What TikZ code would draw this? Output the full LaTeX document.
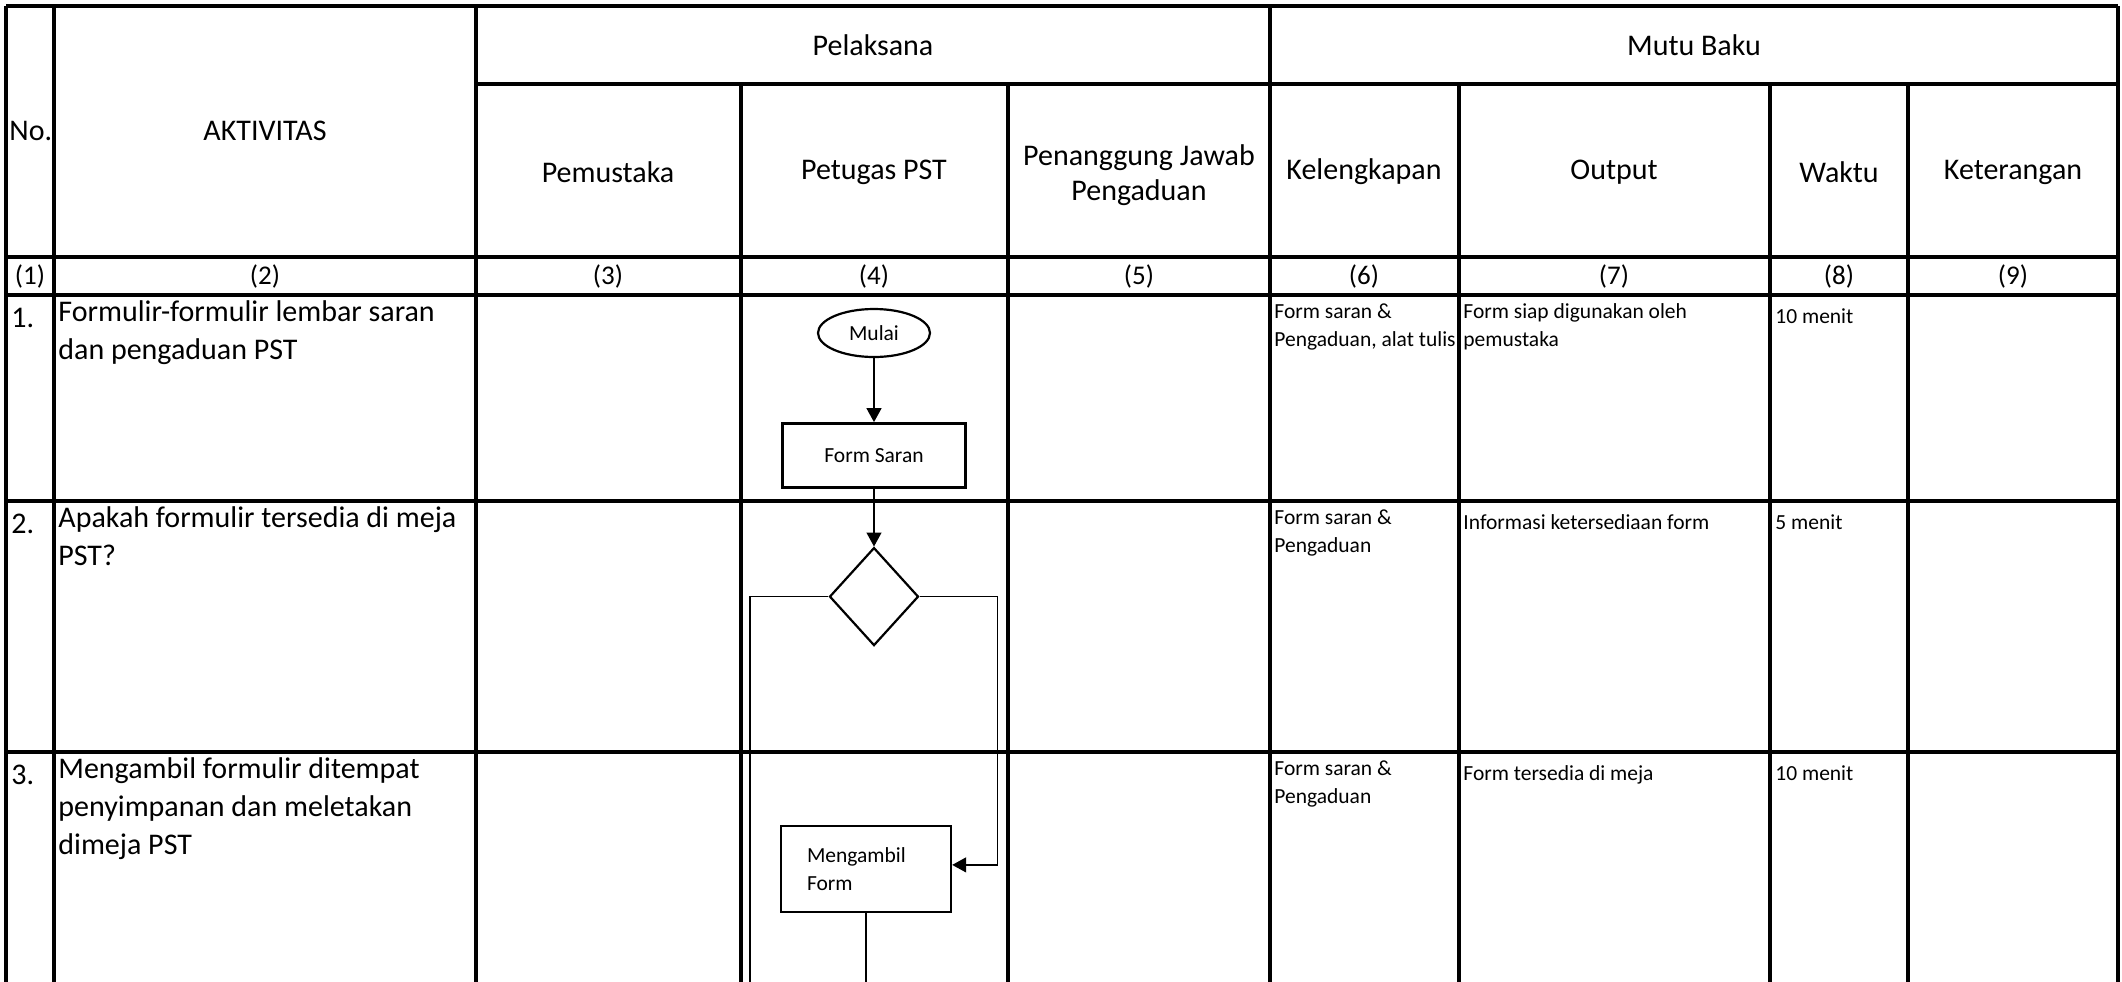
\documentclass[tikz,border=0pt]{standalone}
\usepackage{fontspec}
\setmainfont{Carlito}
\usetikzlibrary{shapes.geometric, arrows.meta, positioning}

\begin{document}
\begin{tikzpicture}[
  x=0.5pt, y=-0.5pt,
  gline/.style={line width=1.6pt},
  rowline/.style={line width=2pt},
  big/.style={font=\fontsize{15}{19}\selectfont},
  small/.style={font=\fontsize{10.75}{14}\selectfont},
  hdr/.style={big, align=center, inner sep=0pt},
  num/.style={font=\fontsize{13.5}{16}\selectfont, inner sep=0pt},
  cell/.style={anchor=north west, inner sep=0pt, align=left,
               execute at begin node=\strut},
  terminal/.style={draw, ellipse, line width=1.1pt, minimum width=56pt,
                   minimum height=24pt, inner sep=1pt, small},
  proc/.style={draw, rectangle, line width=1.2pt, minimum height=32pt, small},
  dec/.style={draw, diamond, line width=1.1pt, minimum width=44.5pt,
              minimum height=49pt, inner sep=0pt},
  arr/.style={-{Triangle[length=7pt, width=7.5pt]}, line width=0.65pt},
  conn/.style={line width=0.65pt}
]
\useasboundingbox (0,0) rectangle (2122,981);

% Table lines
\draw[rowline] (6,6) -- (2118,6);
\draw[rowline] (476,84) -- (2118,84);
\foreach \y in {257,295,501,752}
  \draw[rowline] (6,\y) -- (2118,\y);
\foreach \x in {6,54,476,1270,2118}
  \draw[gline] (\x,6) -- (\x,990);
\foreach \x in {741,1008,1459,1770,1908}
  \draw[gline] (\x,84) -- (\x,990);

% Header
\node[hdr, anchor=west] (hno) at (9,131) {No.};
\node[hdr] (hakt) at (265,131) {AKTIVITAS};
\node[hdr] (hpel) at (873,45) {Pelaksana};
\node[hdr] (hmutu) at (1694,45) {Mutu Baku};
\node[hdr] (hpem) at (608,172) {Pemustaka};
\node[hdr] (hpet) at (874,172) {Petugas PST};
\node[hdr, font=\fontsize{15}{17.5}\selectfont] (hpj) at (1139,175)
  {Penanggung Jawab\\Pengaduan};
\node[hdr] (hkel) at (1364,172) {Kelengkapan};
\node[hdr] (hout) at (1614,172) {Output};
\node[hdr] (hwak) at (1839,172) {Waktu};
\node[hdr] (hket) at (2013,172) {Keterangan};

% Column numbers
\foreach \x [count=\i] in {30,265,608,874,1139,1364,1614,1839,2013}
  \node[num] (n\i) at (\x,276) {(\i)};

% Row 1
\node[cell, big] (r1no) at (11,300) {1.};
\node[cell, big] (r1akt) at (58,300) {Formulir-formulir lembar saran\\dan pengaduan PST};
\node[cell, small] (r1kel) at (1274,303) {Form saran \&\\Pengaduan, alat tulis};
\node[cell, small] (r1out) at (1463,303) {Form siap digunakan oleh\\pemustaka};
\node[cell, small] (r1wak) at (1775,303) {10 menit};

% Row 2
\node[cell, big] (r2no) at (11,506) {2.};
\node[cell, big] (r2akt) at (58,506) {Apakah formulir tersedia di meja\\PST?};
\node[cell, small] (r2kel) at (1274,509) {Form saran \&\\Pengaduan};
\node[cell, small] (r2out) at (1463,509) {Informasi ketersediaan form};
\node[cell, small] (r2wak) at (1775,509) {5 menit};

% Row 3
\node[cell, big] (r3no) at (11,757) {3.};
\node[cell, big] (r3akt) at (58,757) {Mengambil formulir ditempat\\penyimpanan dan meletakan\\dimeja PST};
\node[cell, small] (r3kel) at (1274,760) {Form saran \&\\Pengaduan};
\node[cell, small] (r3out) at (1463,760) {Form tersedia di meja};
\node[cell, small] (r3wak) at (1775,760) {10 menit};

% Flow
\node[terminal] (mulai) at (874,333) {Mulai};
\node[proc, minimum width=91.5pt, below=32pt of mulai] (formsaran) {Form Saran};
\node[dec, below=29pt of formsaran] (cek) {};
\node[proc, minimum height=43pt, text width=59pt, inner xsep=13pt,
      align=left, below=89pt of cek, xshift=-4pt] (ambil) {Mengambil\\Form};
\coordinate (kiri) at (750,990);
\coordinate (bawah) at (866,990);

\draw[arr] (mulai) -- (formsaran);
\draw[arr] (formsaran) -- (cek);
\draw[conn] (cek.west) -| (kiri);
\draw[arr] (cek.east) -- ++(78,0) |- ([yshift=2pt]ambil.east);
\draw[conn] (ambil.south) -- (bawah);
\end{tikzpicture}
\end{document}
